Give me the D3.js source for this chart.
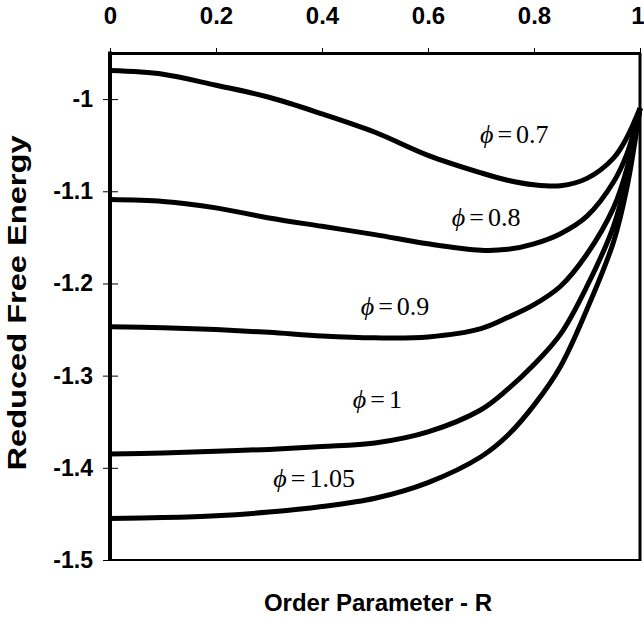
<!DOCTYPE html>
<html>
<head>
<meta charset="utf-8">
<script src="https://cdn.jsdelivr.net/npm/d3@7"></script>
<style>
  html, body { margin: 0; padding: 0; background: #fff; }
  svg { display: block; }
</style>
</head>
<body>
<svg id="chart" width="644" height="618"></svg>
<script>
// Order parameter R (sample points along each curve)
const orderParam = [0, 0.1, 0.2, 0.3, 0.4, 0.5, 0.6, 0.7, 0.75, 0.8, 0.85, 0.9, 0.95, 0.975, 1];

// Reduced free energy for each volume fraction phi
const phiLevels = ["0.7", "0.8", "0.9", "1", "1.05"];
const energy07  = [-0.969, -0.973, -0.985, -0.998, -1.016, -1.036, -1.061, -1.080, -1.088, -1.093, -1.094, -1.086, -1.064, -1.042, -1.010];
const energy08  = [-1.109, -1.111, -1.118, -1.129, -1.138, -1.147, -1.157, -1.164, -1.163, -1.157, -1.146, -1.127, -1.090, -1.060, -1.010];
const energy09  = [-1.247, -1.248, -1.250, -1.253, -1.257, -1.259, -1.258, -1.249, -1.237, -1.223, -1.203, -1.168, -1.118, -1.076, -1.010];
const energy10  = [-1.385, -1.384, -1.382, -1.380, -1.377, -1.373, -1.361, -1.337, -1.315, -1.288, -1.255, -1.203, -1.138, -1.086, -1.010];
const energy105 = [-1.455, -1.454, -1.452, -1.448, -1.442, -1.433, -1.416, -1.388, -1.365, -1.332, -1.290, -1.228, -1.155, -1.097, -1.010];
const energySeries = [energy07, energy08, energy09, energy10, energy105];

// Axis ticks
const xTicks = [0, 0.2, 0.4, 0.6, 0.8, 1];
const xTickLabels = ["0", "0.2", "0.4", "0.6", "0.8", "1"];
const yTicks = [-1, -1.1, -1.2, -1.3, -1.4, -1.5];
const yTickLabels = ["-1", "-1.1", "-1.2", "-1.3", "-1.4", "-1.5"];

// Where each phi label sits, in data units (R, energy) of its baseline start
const labelAnchors = [[0.698, -1.048], [0.645, -1.138], [0.473, -1.234], [0.458, -1.335], [0.308, -1.421]];

const svg = d3.select("#chart");
const x = d3.scaleLinear().domain([0, 1]).range([110, 640]);
const y = d3.scaleLinear().domain([-1.5, -0.95]).range([560, 53]);

const sans = "'Liberation Sans', Arial, sans-serif";
const serif = "'Liberation Serif', 'Times New Roman', serif";

// Frame
svg.append("line").attr("x1", x(0)).attr("x2", x(1)).attr("y1", y(-1.5)).attr("y2", y(-1.5))
  .attr("stroke", "#000").attr("stroke-width", 2);
svg.append("line").attr("x1", x(1)).attr("x2", x(1)).attr("y1", y(-0.95)).attr("y2", y(-1.5) + 1)
  .attr("stroke", "#000").attr("stroke-width", 3);

// Top axis
const xAxis = d3.axisTop(x).tickValues(xTicks).tickFormat((d, i) => xTickLabels[i])
  .tickSizeInner(5).tickSizeOuter(0).tickPadding(24);
const gx = svg.append("g").attr("transform", `translate(0,${y(-0.95)})`).call(xAxis);
gx.select(".domain").attr("stroke", "#000").attr("stroke-width", 3);
gx.selectAll(".tick line").attr("stroke", "#000").attr("stroke-width", 1);
gx.selectAll(".tick text").attr("font-family", sans).attr("font-weight", "bold")
  .attr("font-size", 24).attr("fill", "#000");
// keep the last label inside the right edge
gx.selectAll(".tick text").filter((d, i) => i === xTicks.length - 1)
  .attr("text-anchor", "end").attr("x", 4);

// Left axis (ticks cross the axis line)
const yAxis = d3.axisLeft(y).tickValues(yTicks).tickFormat((d, i) => yTickLabels[i])
  .tickSizeInner(7).tickSizeOuter(0).tickPadding(10);
const gy = svg.append("g").attr("transform", `translate(${x(0)},0)`).call(yAxis);
gy.select(".domain").attr("d", `M0,${y(-0.95) - 1.5}V${y(-1.5)}`).attr("stroke", "#000").attr("stroke-width", 4);
gy.selectAll(".tick line").attr("x1", 8).attr("stroke", "#000").attr("stroke-width", 1);
gy.selectAll(".tick text").attr("font-family", sans).attr("font-weight", "bold")
  .attr("font-size", 23).attr("fill", "#000");

// Curves
const line = d3.line()
  .x((d, i) => x(orderParam[i]))
  .y(d => y(d))
  .curve(d3.curveCatmullRom.alpha(0.5));

svg.append("g").selectAll("path").data(energySeries).join("path")
  .attr("d", line)
  .attr("fill", "none")
  .attr("stroke", "#000")
  .attr("stroke-width", 5)
  .attr("stroke-linecap", "butt");

// phi labels
const labels = svg.append("g").selectAll("text").data(phiLevels).join("text")
  .attr("x", (d, i) => x(labelAnchors[i][0]))
  .attr("y", (d, i) => y(labelAnchors[i][1]))
  .attr("font-family", serif)
  .attr("font-size", 26)
  .attr("fill", "#000");
labels.append("tspan").attr("font-style", "italic").text("\u03D5");
labels.append("tspan").attr("dx", 4).text("=");
labels.append("tspan").attr("dx", 4).text(d => d);

// Axis titles
svg.append("text")
  .attr("x", 378).attr("y", 611)
  .attr("text-anchor", "middle")
  .attr("font-family", sans).attr("font-weight", "bold").attr("font-size", 24)
  .text("Order Parameter - R");

svg.append("text")
  .attr("transform", "translate(26,303) rotate(-90)")
  .attr("text-anchor", "middle")
  .attr("font-family", sans).attr("font-weight", "bold").attr("font-size", 25)
  .attr("textLength", 335).attr("lengthAdjust", "spacingAndGlyphs")
  .text("Reduced Free Energy");
</script>
</body>
</html>
